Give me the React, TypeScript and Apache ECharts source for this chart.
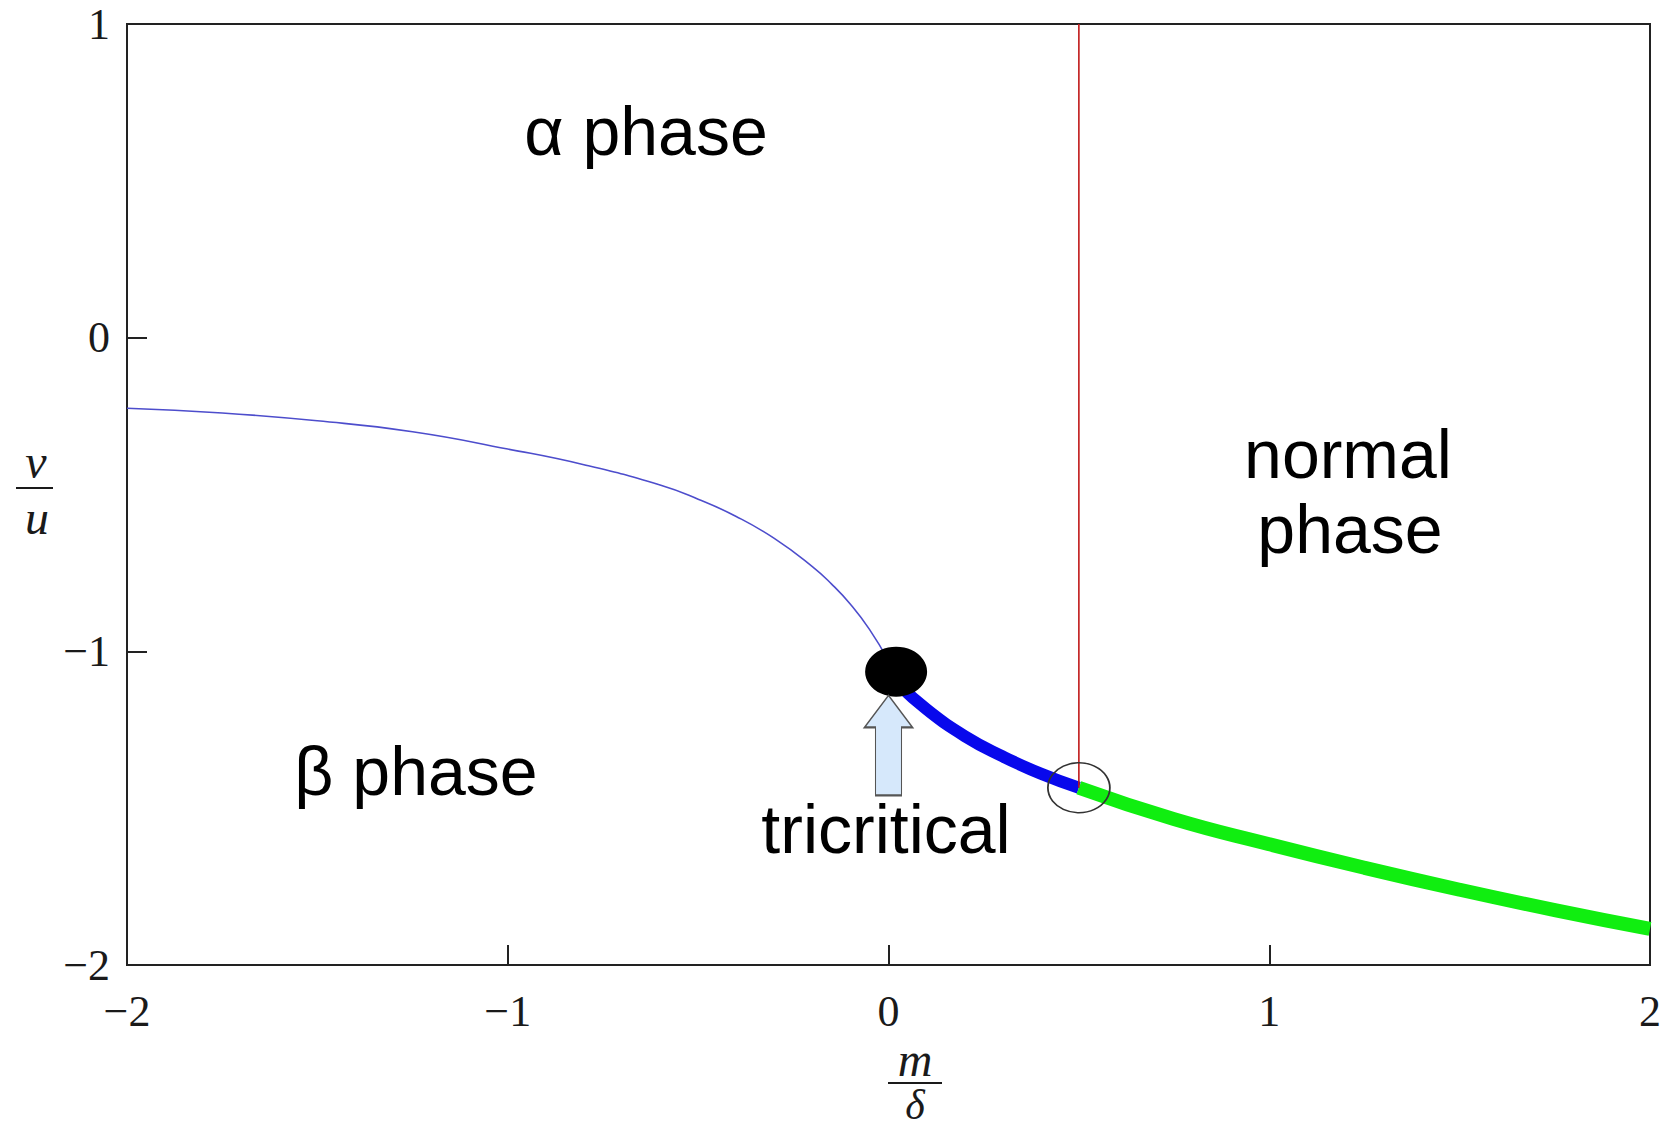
import React, { useEffect, useRef } from "react";
import * as echarts from "echarts";

// ---- data ----
const xTicks = [-2, -1, 0, 1, 2];
const yTicks = [-2, -1, 0, 1];

// thin first-order boundary (α/β)
const thinX = [-2, -1.75, -1.5, -1.25, -1.0, -0.8, -0.6, -0.5, -0.4, -0.3, -0.2, -0.15, -0.1, -0.05, 0.0];
const thinY = [-0.225, -0.24, -0.265, -0.3, -0.355, -0.405, -0.47, -0.515, -0.57, -0.64, -0.73, -0.785, -0.85, -0.93, -1.03];

// thick second-order boundary (α/β)
const thickX = [0.03, 0.1, 0.2, 0.3, 0.4, 0.5];
const thickY = [-1.11, -1.185, -1.27, -1.335, -1.39, -1.435];

// boundary to normal phase
const greenX = [0.5, 0.75, 1.0, 1.25, 1.5, 1.75, 2.0];
const greenY = [-1.435, -1.535, -1.615, -1.69, -1.76, -1.825, -1.885];

// vertical boundary
const redX = [0.5, 0.5];
const redY = [1, -1.435];

// special points
const tricritical = [0.02, -1.065];
const junction = [0.5, -1.435];
const arrowPos = [0.0, -1.3];

const zip = (xs: number[], ys: number[]) => xs.map((x, i) => [x, ys[i]]);

const fmt = (v: number) => (v < 0 ? "\u2212" + Math.abs(v) : String(v));

export default function App() {
  const ref = useRef<HTMLDivElement>(null);

  useEffect(() => {
    if (!ref.current) return;
    const chart = echarts.init(ref.current, undefined, { renderer: "svg" });
    const serif = "Liberation Serif";
    const sans = "Liberation Sans";
    const arrowPath = "path://M24 0 L48 32 L37 32 L37 100 L11 100 L11 32 L0 32 Z";

    const axisCommon = {
      type: "value",
      interval: 1,
      axisLine: { show: true, onZero: false, lineStyle: { color: "#222", width: 2 } },
      splitLine: { show: false },
      axisTick: { show: true, inside: true, length: 20, lineStyle: { color: "#222", width: 2 } },
    };

    chart.setOption({
      animation: false,
      backgroundColor: "#ffffff",
      grid: {
        left: 127,
        top: 24,
        right: 14,
        bottom: 164,
        show: true,
        borderColor: "#222",
        borderWidth: 2,
        backgroundColor: "transparent",
      },
      xAxis: {
        ...axisCommon,
        min: xTicks[0],
        max: xTicks[xTicks.length - 1],
        axisLabel: {
          margin: 24,
          fontFamily: serif,
          fontSize: 44,
          color: "#1a1a1a",
          formatter: fmt,
          showMinLabel: true,
          showMaxLabel: true,
        },
      },
      yAxis: {
        ...axisCommon,
        min: yTicks[0],
        max: yTicks[yTicks.length - 1],
        axisLabel: {
          margin: 17,
          fontFamily: serif,
          fontSize: 44,
          color: "#1a1a1a",
          formatter: fmt,
          showMinLabel: true,
          showMaxLabel: true,
        },
      },
      series: [
        {
          type: "line",
          data: zip(thinX, thinY),
          smooth: 0.5,
          showSymbol: false,
          lineStyle: { color: "#4d4dcc", width: 1.6 },
          z: 2,
        },
        {
          type: "line",
          data: zip(thickX, thickY),
          smooth: 0.5,
          showSymbol: false,
          lineStyle: { color: "#0808ec", width: 12 },
          z: 3,
        },
        {
          type: "line",
          data: zip(greenX, greenY),
          smooth: 0.5,
          showSymbol: false,
          lineStyle: { color: "#10ee10", width: 14 },
          z: 3,
        },
        {
          type: "line",
          data: zip(redX, redY),
          showSymbol: false,
          lineStyle: { color: "#c01818", width: 1.6 },
          z: 4,
        },
        {
          type: "scatter",
          data: [junction],
          symbol: "circle",
          symbolSize: [62, 50],
          itemStyle: { color: "rgba(0,0,0,0)", borderColor: "#333", borderWidth: 1.6, opacity: 1 },
          z: 5,
        },
        {
          type: "scatter",
          data: [tricritical],
          symbol: "circle",
          symbolSize: [62, 50],
          itemStyle: { color: "#000", opacity: 1 },
          z: 6,
        },
        {
          type: "scatter",
          data: [arrowPos],
          symbol: arrowPath,
          symbolSize: [48, 100],
          itemStyle: { color: "#d6e8fb", borderColor: "#555", borderWidth: 1.5, opacity: 1 },
          z: 6,
        },
      ],
      graphic: [
        { type: "text", x: 646, y: 131, style: { text: "α phase", font: `68px ${sans}`, fill: "#000", align: "center", verticalAlign: "middle" } },
        { type: "text", x: 416, y: 771, style: { text: "β phase", font: `68px ${sans}`, fill: "#000", align: "center", verticalAlign: "middle" } },
        { type: "text", x: 886, y: 829, style: { text: "tricritical", font: `68px ${sans}`, fill: "#000", align: "center", verticalAlign: "middle" } },
        { type: "text", x: 1348, y: 454, style: { text: "normal", font: `68px ${sans}`, fill: "#000", align: "center", verticalAlign: "middle" } },
        { type: "text", x: 1350, y: 529, style: { text: "phase", font: `68px ${sans}`, fill: "#000", align: "center", verticalAlign: "middle" } },
        // y-axis name v/u
        { type: "text", x: 36, y: 461, style: { text: "v", font: `italic 48px ${serif}`, fill: "#1a1a1a", align: "center", verticalAlign: "middle" } },
        { type: "line", shape: { x1: 16, y1: 488, x2: 53, y2: 488 }, style: { stroke: "#1a1a1a", lineWidth: 2 } },
        { type: "text", x: 37, y: 517, style: { text: "u", font: `italic 48px ${serif}`, fill: "#1a1a1a", align: "center", verticalAlign: "middle" } },
        // x-axis name m/δ
        { type: "text", x: 915, y: 1059, style: { text: "m", font: `italic 48px ${serif}`, fill: "#1a1a1a", align: "center", verticalAlign: "middle" } },
        { type: "line", shape: { x1: 888, y1: 1083, x2: 942, y2: 1083 }, style: { stroke: "#1a1a1a", lineWidth: 2 } },
        { type: "text", x: 915, y: 1105, style: { text: "δ", font: `italic 42px ${serif}`, fill: "#1a1a1a", align: "center", verticalAlign: "middle" } },
      ],
    });

    return () => chart.dispose();
  }, []);

  return (
    <div
      ref={ref}
      style={{ position: "absolute", left: 0, top: 0, width: 1664, height: 1129, background: "#fff" }}
    />
  );
}
